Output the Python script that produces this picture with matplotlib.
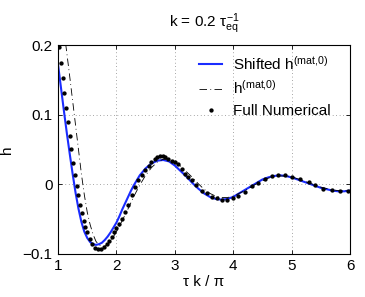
import matplotlib
matplotlib.use("Agg")
import matplotlib.pyplot as plt

plt.rcParams["font.family"] = ["Liberation Sans", "DejaVu Sans"]
plt.rcParams["mathtext.fontset"] = "custom"
plt.rcParams["mathtext.rm"] = "Liberation Sans"
plt.rcParams["mathtext.it"] = "Liberation Sans"
plt.rcParams["mathtext.bf"] = "Liberation Sans:bold"

# shifted h^(mat,0) (blue solid)
shift_x = [1.00, 1.05, 1.10, 1.15, 1.20, 1.25, 1.30, 1.35, 1.40, 1.45, 1.50, 1.55,
           1.60, 1.65, 1.70, 1.75, 1.80, 1.85, 1.90, 1.95, 2.00, 2.05, 2.10, 2.15,
           2.20, 2.25, 2.30, 2.35, 2.40, 2.50, 2.60, 2.70, 2.80, 2.90, 3.00, 3.10,
           3.20, 3.30, 3.40, 3.50, 3.60, 3.70, 3.80, 3.90, 4.00, 4.10, 4.20, 4.30,
           4.40, 4.50, 4.60, 4.70, 4.80, 4.90, 5.00, 5.10, 5.20, 5.30, 5.40, 5.50,
           5.60, 5.70, 5.80, 5.90, 6.00]
shift_y = [0.172, 0.139, 0.106, 0.074, 0.044, 0.015, -0.012, -0.035, -0.054, -0.068,
           -0.077, -0.083, -0.086, -0.087, -0.086, -0.084, -0.080, -0.075, -0.069,
           -0.062, -0.055, -0.046, -0.036, -0.027, -0.018, -0.009, -0.001, 0.006,
           0.013, 0.023, 0.030, 0.034, 0.035, 0.033, 0.027, 0.019, 0.011, 0.002,
           -0.006, -0.013, -0.018, -0.021, -0.022, -0.021, -0.018, -0.013, -0.008,
           -0.003, 0.002, 0.007, 0.010, 0.012, 0.013, 0.012, 0.010, 0.007, 0.004,
           0.001, -0.002, -0.005, -0.007, -0.009, -0.010, -0.010, -0.009]

# h^(mat,0) (black dash-dot)
mat_x = [1.00, 1.05, 1.10, 1.15, 1.20, 1.25, 1.30, 1.35, 1.40, 1.45, 1.50, 1.55,
         1.60, 1.65, 1.70, 1.75, 1.80, 1.85, 1.90, 1.95, 2.00, 2.10, 2.20, 2.30,
         2.40, 2.50, 2.60, 2.70, 2.80, 2.90, 3.00, 3.10, 3.20, 3.30, 3.40, 3.50,
         3.60, 3.70, 3.80, 3.90, 4.00, 4.10, 4.20, 4.30, 4.40, 4.50, 4.60, 4.70,
         4.80, 4.90, 5.00, 5.10, 5.20, 5.30, 5.40, 5.50, 5.60, 5.70, 5.80, 5.90, 6.00]
mat_y = [0.290, 0.255, 0.222, 0.189, 0.155, 0.120, 0.085, 0.050, 0.015, -0.015,
         -0.040, -0.058, -0.072, -0.082, -0.087, -0.089, -0.089, -0.086, -0.081,
         -0.075, -0.068, -0.052, -0.035, -0.017, -0.001, 0.013, 0.024, 0.032,
         0.036, 0.036, 0.032, 0.026, 0.018, 0.010, 0.001, -0.007, -0.013, -0.017,
         -0.019, -0.019, -0.017, -0.013, -0.009, -0.004, 0.001, 0.005, 0.009,
         0.011, 0.012, 0.012, 0.011, 0.008, 0.005, 0.002, -0.001, -0.004, -0.006,
         -0.008, -0.009, -0.009, -0.008]

# full numerical (black dots)
num_x = [1.017, 1.051, 1.080, 1.108, 1.137, 1.171, 1.200, 1.228, 1.26, 1.29, 1.32,
         1.35, 1.38, 1.41, 1.44, 1.47, 1.50, 1.54, 1.59, 1.63, 1.68, 1.73, 1.78,
         1.83, 1.88, 1.92, 1.96, 2.00, 2.04, 2.09, 2.15, 2.20, 2.26, 2.32, 2.37,
         2.43, 2.49, 2.55, 2.60, 2.66, 2.70, 2.75, 2.79, 2.84, 2.89, 2.95, 3.00,
         3.06, 3.12, 3.17, 3.23, 3.29, 3.37, 3.46, 3.55, 3.63, 3.72, 3.80, 3.89,
         3.99, 4.09, 4.20, 4.32, 4.43, 4.54, 4.66, 4.77, 4.89, 5.01, 5.14, 5.29,
         5.40, 5.54, 5.69, 5.83, 5.97]
num_y = [0.198, 0.175, 0.153, 0.131, 0.110, 0.089, 0.069, 0.051, 0.031, 0.013,
         -0.002, -0.016, -0.029, -0.041, -0.052, -0.061, -0.069, -0.078, -0.086,
         -0.091, -0.093, -0.093, -0.090, -0.086, -0.081, -0.075, -0.069, -0.063,
         -0.057, -0.050, -0.040, -0.030, -0.016, -0.004, 0.006, 0.013, 0.020,
         0.027, 0.032, 0.037, 0.039, 0.040, 0.040, 0.039, 0.037, 0.034, 0.032,
         0.029, 0.022, 0.015, 0.010, 0.006, -0.001, -0.009, -0.013, -0.018,
         -0.020, -0.022, -0.022, -0.020, -0.017, -0.011, -0.003, 0.002, 0.008,
         0.012, 0.013, 0.013, 0.011, 0.007, 0.003, -0.001, -0.006, -0.008,
         -0.010, -0.009]

x_ticks = [1, 2, 3, 4, 5, 6]
y_ticks = [-0.1, 0, 0.1, 0.2]


def main():
    fig = plt.figure(figsize=(3.65, 2.97), dpi=100, facecolor="white")
    ax = fig.add_axes([0.159, 0.145, 0.8, 0.703])

    ax.plot(shift_x, shift_y, color="#1a2cff", linewidth=1.5,
            label=r"Shifted h$^{(\mathrm{mat{,}0})}$")
    ax.plot(mat_x, mat_y, color="black", linewidth=0.6,
            dashes=[9, 4, 1, 4], label=r"h$^{(\mathrm{mat{,}0})}$")
    ax.plot(num_x, num_y, linestyle="none", marker="o", markersize=2.1,
            color="black", label="Full Numerical")

    ax.set_xlim(1, 6)
    ax.set_ylim(-0.1, 0.2)
    ax.set_xticks(x_ticks)
    ax.set_yticks(y_ticks)
    ax.set_yticklabels(["\u22120.1", "0", "0.1", "0.2"])
    ax.tick_params(direction="in", length=3, width=0.6, labelsize=11,
                   top=True, right=True, pad=4)
    ax.grid(True, linestyle=(0, (1, 4)), color="#555555", linewidth=0.5)
    for sp in ax.spines.values():
        sp.set_linewidth(0.8)

    ax.set_title(r"k = 0.2 $\tau_{\mathrm{eq}}^{-1}$", fontsize=11, pad=13)
    ax.set_xlabel("τ k / π", fontsize=11, labelpad=1)
    ax.set_ylabel("h", fontsize=11, labelpad=6)

    ax.legend(loc="upper right", frameon=False, fontsize=11, handlelength=1.5,
              handletextpad=0.7, labelspacing=0.45, borderaxespad=0.2,
              bbox_to_anchor=(0.965, 1.0))

    fig.savefig("out.png", dpi=100, facecolor="white")
    plt.close(fig)


if __name__ == "__main__":
    main()
